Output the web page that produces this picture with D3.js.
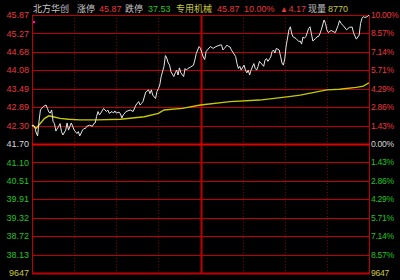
<!DOCTYPE html>
<html>
<head>
<meta charset="utf-8">
<script src="https://cdn.jsdelivr.net/npm/d3@7"></script>
<style>
  html, body { margin: 0; padding: 0; background: #000; }
  svg { display: block; }
  text { font-family: "Liberation Sans", "Noto Sans CJK SC", sans-serif; }
</style>
</head>
<body>
<div id="chart-area"></div>
<script>
// intraday minute chart, 240 trading minutes
const minutes = [0,1,2,3,4,5,6,8,10,11,
  12,13,14,15,16,17,19,20,21,22,
  24,25,26,27,28,30,32,33,34,36,
  37,38,39,41,43,44,45,46,47,48,
  49,51,52,53,54,55,57,58,59,60,
  62,63,64,65,67,70,72,74,76,77,
  78,79,81,83,84,85,86,88,89,90,
  91,92,94,95,96,97,98,99,101,102,
  103,104,105,106,108,109,110,111,113,115,
  116,117,119,120,121,122,123,124,127,129,
  131,134,135,136,137,139,140,141,142,143,
  145,146,147,148,149,151,152,153,154,155,
  156,158,159,160,161,162,163,165,166,167,
  168,170,171,172,173,174,176,177,178,179,
  180,181,183,184,185,186,188,190,191,192,
  193,194,195,197,198,199,200,202,203,204,
  205,206,208,209,210,211,213,216,218,219,
  220,222,224,226,228,229,230,231,233,234,
  235,236,237,239,240];

const prices = [42.28,42.31,42.25,42.06,41.96,42.44,42.80,42.91,42.96,42.85,
  42.73,42.70,42.80,42.43,42.36,42.12,42.27,42.36,42.10,41.99,
  42.15,42.38,42.15,42.27,42.38,42.15,42.04,42.10,41.96,42.15,
  42.20,42.20,42.27,42.31,42.27,42.36,42.38,42.59,42.75,42.64,
  42.70,42.85,42.80,42.75,42.80,42.69,42.75,42.70,42.77,42.70,
  42.73,42.67,42.54,42.64,42.75,42.80,42.75,42.96,43.07,42.96,
  43.01,43.07,43.38,43.45,43.33,43.45,43.28,43.17,43.40,43.49,
  43.61,43.88,44.21,44.56,44.48,44.32,44.25,44.03,43.88,44.00,
  44.09,43.93,44.16,44.00,43.88,44.14,44.09,44.14,44.19,44.25,
  44.42,44.63,44.85,44.79,44.64,44.51,44.43,44.69,44.85,44.79,
  44.85,44.90,44.90,44.74,44.79,44.90,44.85,44.84,44.74,44.67,
  44.53,44.30,44.14,44.21,44.09,44.25,44.09,44.00,44.09,43.93,
  44.09,44.30,44.14,44.09,44.21,44.37,44.32,44.21,44.42,44.46,
  44.37,44.51,44.69,44.74,44.64,44.79,44.74,44.54,44.32,44.25,
  44.45,44.87,45.39,45.49,45.26,45.16,45.11,45.01,45.03,44.93,
  45.16,45.12,45.17,45.43,45.49,45.26,45.03,45.11,45.17,45.17,
  45.26,45.39,45.71,45.60,45.39,45.30,45.37,45.30,45.53,45.69,
  45.60,45.51,45.39,45.47,45.48,45.29,45.19,45.09,45.22,45.60,
  45.76,45.82,45.79,45.82,45.87];

const avgMinutes = [0,3,6,9,12,15,20,26,34,46,63,80,90,94,107,120,141,162,183,191,210,219,231,236,240];
const avgPrices = [42.31,42.21,42.37,42.53,42.61,42.58,42.53,42.50,42.48,42.48,42.50,42.58,42.69,42.80,42.85,42.96,43.07,43.12,43.23,43.28,43.45,43.47,43.53,43.57,43.68];

const priceLabels = ["45.87","45.27","44.68","44.08","43.49","42.89","42.30","41.70",
  "41.10","40.51","39.91","39.32","38.72","38.13","9647"];
const pctLabels = ["10.00%","8.57%","7.14%","5.71%","4.29%","2.86%","1.43%","0.00%",
  "1.43%","2.86%","4.29%","5.71%","7.14%","8.57%","9647"];

const headerTexts = ["北方华创","涨停","45.87","跌停","37.53","专用机械","45.87","10.00%","▲4.17","现量","8770"];
const headerKinds = ["name","name","up","name","down","vol","up","up","up","name","vol"];

const limitUp = 45.87, limitDown = 37.53;

const colors = { up: "#e8383c", down: "#22c322", flat: "#d8d8d8", name: "#c8c8c8", vol: "#c8c83c" };

const W = 400, H = 280;
const plotLeft = 32, plotRight = 369, plotTop = 15, plotBottom = 273;

const svg = d3.select("#chart-area")
  .append("svg")
  .attr("width", W)
  .attr("height", H)
  .style("background", "#000");

const x = d3.scaleLinear().domain([0, 240]).range([plotLeft, plotRight]);
const y = d3.scaleLinear().domain([limitDown, limitUp]).range([plotBottom, plotTop]);
const row = d3.scaleLinear().domain([0, priceLabels.length - 1]).range([plotTop, plotBottom]);

const rowColor = i => i < 7 ? colors.up : i === 7 ? colors.flat : i === 14 ? colors.vol : colors.down;

// grid: vertical lines every half hour
const grid = svg.append("g");
grid.selectAll("line.v")
  .data(d3.range(0, 241, 30))
  .enter()
  .append("line")
  .attr("x1", d => Math.round(x(d)) + 0.5)
  .attr("x2", d => Math.round(x(d)) + 0.5)
  .attr("y1", plotTop)
  .attr("y2", plotBottom)
  .attr("stroke", d => d % 120 === 0 ? "#c00000" : "#7a0000")
  .attr("stroke-width", d => d === 120 ? 2 : 1)
  .attr("stroke-dasharray", d => d % 120 === 0 ? null : "1,2");

// horizontal lines
grid.selectAll("line.h")
  .data(d3.range(priceLabels.length))
  .enter()
  .append("line")
  .attr("x1", plotLeft)
  .attr("x2", plotRight + 1)
  .attr("y1", i => Math.round(row(i)) + 0.5)
  .attr("y2", i => Math.round(row(i)) + 0.5)
  .attr("stroke", i => i === 7 ? "#e00000" : "#c00000")
  .attr("stroke-width", i => (i === 7 || i === 14) ? 2 : 1);

// axis labels
svg.selectAll("text.lp")
  .data(priceLabels)
  .enter()
  .append("text")
  .attr("x", 29)
  .attr("y", (_, i) => row(i))
  .attr("dy", "0.35em")
  .attr("text-anchor", "end")
  .attr("font-size", 9)
  .attr("fill", (_, i) => rowColor(i))
  .text(d => d);

svg.selectAll("text.rp")
  .data(pctLabels)
  .enter()
  .append("text")
  .attr("x", 371)
  .attr("y", (_, i) => row(i))
  .attr("dy", "0.35em")
  .attr("font-size", 8.6)
  .attr("letter-spacing", -0.3)
  .attr("fill", (_, i) => rowColor(i))
  .text(d => d);

// average price line
const avgData = avgMinutes.map((m, i) => ({ m, p: avgPrices[i] }));
svg.append("path")
  .datum(avgData)
  .attr("fill", "none")
  .attr("stroke", "#c8c800")
  .attr("stroke-width", 1.4)
  .attr("d", d3.line().x(d => x(d.m)).y(d => y(d.p)));

// price line
const priceData = minutes.map((m, i) => ({ m, p: prices[i] }));
svg.append("path")
  .datum(priceData)
  .attr("fill", "none")
  .attr("stroke", "#e6e6e6")
  .attr("stroke-width", 1)
  .attr("d", d3.line().x(d => x(d.m)).y(d => y(d.p)));

// small marker at the top left
svg.append("rect")
  .attr("x", 33).attr("y", 21)
  .attr("width", 2).attr("height", 2)
  .attr("fill", "#ff00ff");

// header line
const headerX = [33, 77, 99, 125, 148, 176, 217, 244, 280, 308, 328];
const hd = svg.selectAll("text.hd")
  .data(headerTexts)
  .enter()
  .append("text")
  .attr("x", (_, i) => headerX[i])
  .attr("y", 11.5)
  .attr("font-size", 9)
  .attr("fill", (_, i) => colors[headerKinds[i]]);

hd.each(function (d) {
  const t = d3.select(this);
  if (d.startsWith("▲")) {
    t.append("tspan").attr("font-size", 8).text("▲");
    t.append("tspan").attr("dx", 0.5).text(d.slice(1));
  } else {
    t.text(d);
  }
});
</script>
</body>
</html>
